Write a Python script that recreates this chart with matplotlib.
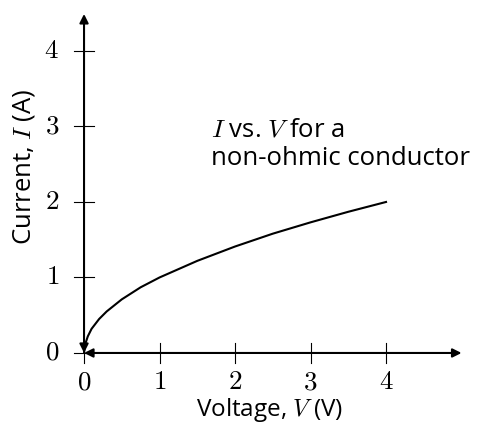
import numpy as np
import matplotlib
matplotlib.use("Agg")
import matplotlib.pyplot as plt

matplotlib.rcParams.update({'mathtext.fontset': 'cm', 'font.family': 'Open Sans', 'font.size': 18.5})

# I-V readings for the non-ohmic conductor
voltage = [0, 0.01, 0.05, 0.1, 0.2, 0.3, 0.5, 0.75, 1.0, 1.5, 2.0, 2.5, 3.0, 3.5, 4.0]
current = [0, 0.1, 0.22, 0.32, 0.45, 0.55, 0.71, 0.87, 1.0, 1.22, 1.41, 1.58, 1.73, 1.87, 2.0]
x_ticks = [0, 1, 2, 3, 4]
y_ticks = [0, 1, 2, 3, 4]
x_end, y_end = 5.0, 4.49

fig = plt.figure(figsize=(4.81, 4.25), dpi=100)
ax = fig.add_axes([0, 0, 1, 1])
ax.set_xlim(-1.113, 5.258)
ax.set_ylim(-0.954, 4.675)

for s in ['top', 'right', 'left', 'bottom']:
    ax.spines[s].set_visible(False)

ax.plot(voltage, current, color='black', lw=1.5, zorder=3)

# axes drawn as double-headed arrows from the origin
ax.annotate('', xy=(x_end, 0), xytext=(0, 0),
            arrowprops=dict(arrowstyle='<|-|>', color='black', lw=1.5,
                            mutation_scale=13, shrinkA=0, shrinkB=0))
ax.annotate('', xy=(0, y_end), xytext=(0, 0),
            arrowprops=dict(arrowstyle='<|-|>', color='black', lw=1.5,
                            mutation_scale=13, shrinkA=0, shrinkB=0))

# ticks crossing the axes
for t in x_ticks:
    ax.plot([t, t], [-0.135, 0.135], color='black', lw=0.8)
    ax.text(t, -0.39, '$%d$' % t, ha='center', va='center', fontsize=19.5)
for t in y_ticks:
    ax.plot([-0.135, 0.135], [t, t], color='black', lw=0.8)
    ax.text(-0.33, t, '$%d$' % t, ha='right', va='center', fontsize=19.5)

ax.text(2.46, -0.84, 'Voltage, $V$ (V)', ha='center', va='baseline', fontsize=17.5)
ax.text(-0.79, 2.46, 'Current, $I$ (A)', ha='center', va='center', rotation=90)

ax.text(1.68, 2.87, '$I$ vs. $V$ for a', ha='left', va='baseline')
ax.text(1.68, 2.49, 'non-ohmic conductor', ha='left', va='baseline')

ax.set_xticks([])
ax.set_yticks([])

fig.savefig("out.png", dpi=100)
